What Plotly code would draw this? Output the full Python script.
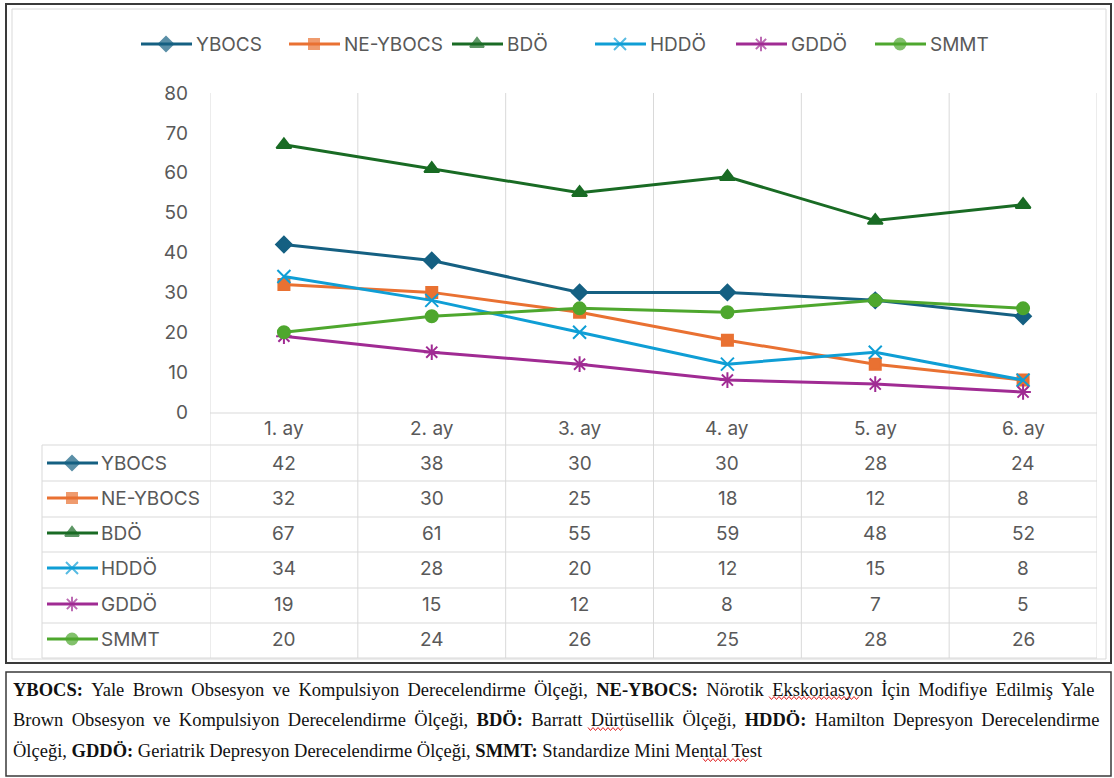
import plotly.graph_objects as go

W, H = 1114, 778

months = ["1. ay", "2. ay", "3. ay", "4. ay", "5. ay", "6. ay"]
series_names = ["YBOCS", "NE-YBOCS", "BDÖ", "HDDÖ", "GDDÖ", "SMMT"]
ybocs = [42, 38, 30, 30, 28, 24]
ne_ybocs = [32, 30, 25, 18, 12, 8]
bdo = [67, 61, 55, 59, 48, 52]
hddo = [34, 28, 20, 12, 15, 8]
gddo = [19, 15, 12, 8, 7, 5]
smmt = [20, 24, 26, 25, 28, 26]
y_ticks = [0, 10, 20, 30, 40, 50, 60, 70, 80]

footnote_lines = [
    "<b>YBOCS:</b> Yale Brown Obsesyon ve Kompulsiyon Derecelendirme Ölçeği, <b>NE-YBOCS:</b> Nörotik Ekskoriasyon İçin Modifiye Edilmiş Yale",
    "Brown Obsesyon ve Kompulsiyon Derecelendirme Ölçeği, <b>BDÖ:</b> Barratt Dürtüsellik Ölçeği, <b>HDDÖ:</b> Hamilton Depresyon Derecelendirme",
    "Ölçeği, <b>GDDÖ:</b> Geriatrik Depresyon Derecelendirme Ölçeği, <b>SMMT:</b> Standardize Mini Mental Test",
]
footnote_justify = [True, True, False]

values = [ybocs, ne_ybocs, bdo, hddo, gddo, smmt]
colors = ["#156082", "#E97132", "#196B24", "#0F9ED5", "#A02B93", "#4EA72E"]
symbols = ["diamond", "square", "triangle-up", "x-thin-open", "asterisk-open", "circle"]
msizes = [12, 11, 13, 13, 13, 12]

FONT = "Inter"
TXT = "#595959"
GRID = "#d9d9d9"
FS = 19

# layout positions (pixels)
legend_key_x = [141, 289, 452, 595, 736, 875]
legend_y = 44
row_centers = [463, 498, 533, 568, 604, 639]
row_lines = [445, 481, 517, 552, 588, 623, 658]
footnote_y = [690, 720, 751]
# spell-check squiggles under words (x0, x1, y) in pixels
squiggles = [(769, 861, 698), (588, 624, 729), (703, 748, 760)]


def py(px):
    return 1 - px / H


def pxx(px):
    return px / W


fig = go.Figure()

for name, vals, c, s, ms in zip(series_names, values, colors, symbols, msizes):
    fig.add_trace(go.Scatter(
        x=months, y=vals, name=name, mode="lines+markers", showlegend=False,
        line=dict(color=c, width=3),
        marker=dict(symbol=s, size=ms, color=c, line=dict(color=c, width=2)),
        xaxis="x", yaxis="y",
    ))

annotations = []

# legend keys (top) and table row keys, drawn on a pixel overlay axis
for name, c, s, ms, kx, ry in zip(series_names, colors, symbols, msizes, legend_key_x, row_centers):
    for (x0, yy) in [(kx, legend_y), (47, ry)]:
        fig.add_trace(go.Scatter(
            x=[x0, x0 + 25, x0 + 51], y=[yy, yy, yy], mode="lines+markers", showlegend=False,
            line=dict(color=c, width=3),
            marker=dict(symbol=s, size=[0, ms - 1, 0], color=c, line=dict(color=c, width=2)),
            xaxis="x2", yaxis="y2", hoverinfo="skip",
        ))
    annotations.append(dict(x=pxx(kx + 53), xref="paper", y=py(legend_y), yref="paper", text=name,
                            showarrow=False, font=dict(family=FONT, size=FS, color=TXT),
                            xanchor="left", yanchor="middle"))
    annotations.append(dict(x=pxx(99), xref="paper", y=py(ry), yref="paper", text=name, showarrow=False,
                            font=dict(family=FONT, size=FS, color=TXT), xanchor="left", yanchor="middle"))

shapes = []
# outer chart frame
shapes.append(dict(type="rect", xref="paper", yref="paper", x0=pxx(6), x1=pxx(1111), y0=py(663), y1=py(4),
                   line=dict(color="#3a3a3a", width=2)))
shapes.append(dict(type="rect", xref="paper", yref="paper", x0=pxx(12), x1=pxx(1106), y0=py(659), y1=py(9),
                   line=dict(color="#d9d9d9", width=1)))
# footnote box
shapes.append(dict(type="rect", xref="paper", yref="paper", x0=pxx(6), x1=pxx(1111), y0=py(776), y1=py(672),
                   line=dict(color="#3a3a3a", width=1.5)))

# vertical category boundaries
for i in range(len(months) + 1):
    xv = i - 0.5
    shapes.append(dict(type="line", xref="x", yref="paper", x0=xv, x1=xv, y0=py(658), y1=py(93),
                       line=dict(color=GRID, width=1), layer="below"))
# table horizontal lines
shapes.append(dict(type="line", xref="paper", yref="paper", x0=pxx(210), x1=pxx(1097), y0=py(413), y1=py(413),
                   line=dict(color=GRID, width=1), layer="below"))
for yy in row_lines:
    shapes.append(dict(type="line", xref="paper", yref="paper", x0=pxx(42), x1=pxx(1097), y0=py(yy), y1=py(yy),
                       line=dict(color=GRID, width=1), layer="below"))
shapes.append(dict(type="line", xref="paper", yref="paper", x0=pxx(42), x1=pxx(42), y0=py(658), y1=py(445),
                   line=dict(color=GRID, width=1), layer="below"))

# red wavy spell-check underlines
for (sx0, sx1, sy) in squiggles:
    pts = []
    x = sx0
    k = 0
    while x <= sx1:
        pts.append((x, sy + (1.5 if k % 2 else -1.5)))
        x += 2.5
        k += 1
    path = "M " + " L ".join(f"{pxx(a):.5f},{py(b):.5f}" for a, b in pts)
    shapes.append(dict(type="path", xref="paper", yref="paper", path=path,
                       line=dict(color="#e02020", width=1)))

for m in months:
    annotations.append(dict(x=m, xref="x", y=py(429), yref="paper", text=m, showarrow=False,
                            font=dict(family=FONT, size=FS, color=TXT), xanchor="center", yanchor="middle"))
for vals, ry in zip(values, row_centers):
    for m, v in zip(months, vals):
        annotations.append(dict(x=m, xref="x", y=py(ry), yref="paper", text=str(v), showarrow=False,
                                font=dict(family=FONT, size=FS, color=TXT), xanchor="center", yanchor="middle"))
for line, just, ly in zip(footnote_lines, footnote_justify, footnote_y):
    txt = line.replace(" ", " \u2009") if just else line
    annotations.append(dict(x=pxx(11), xref="paper", y=py(ly), yref="paper", text=txt, showarrow=False,
                            font=dict(family="Liberation Serif", size=18.5, color="#111111"),
                            xanchor="left", yanchor="middle"))

fig.update_layout(
    width=W, height=H,
    margin=dict(l=0, r=0, t=0, b=0, autoexpand=False),
    paper_bgcolor="white", plot_bgcolor="rgba(0,0,0,0)",
    font=dict(family=FONT, color=TXT, size=FS),
    showlegend=False,
    xaxis=dict(domain=[pxx(210), pxx(1097)], range=[-0.5, 5.5], type="category", categoryarray=months,
               showticklabels=False, showgrid=False, zeroline=False, showline=False, ticks="", anchor="y"),
    yaxis=dict(domain=[py(412), py(93)], range=[0, 80], tickvals=y_ticks, showgrid=False, zeroline=False,
               showline=False, ticks="", ticklabelstandoff=21, anchor="x",
               tickfont=dict(family=FONT, size=FS, color=TXT)),
    xaxis2=dict(domain=[0, 1], range=[0, W], visible=False, anchor="y2"),
    yaxis2=dict(domain=[0, 1], range=[H, 0], visible=False, anchor="x2"),
    shapes=shapes,
    annotations=annotations,
)

fig.write_html("out.html", config={"displayModeBar": False},
               post_script="document.body.style.margin='0';document.body.style.padding='0';")
